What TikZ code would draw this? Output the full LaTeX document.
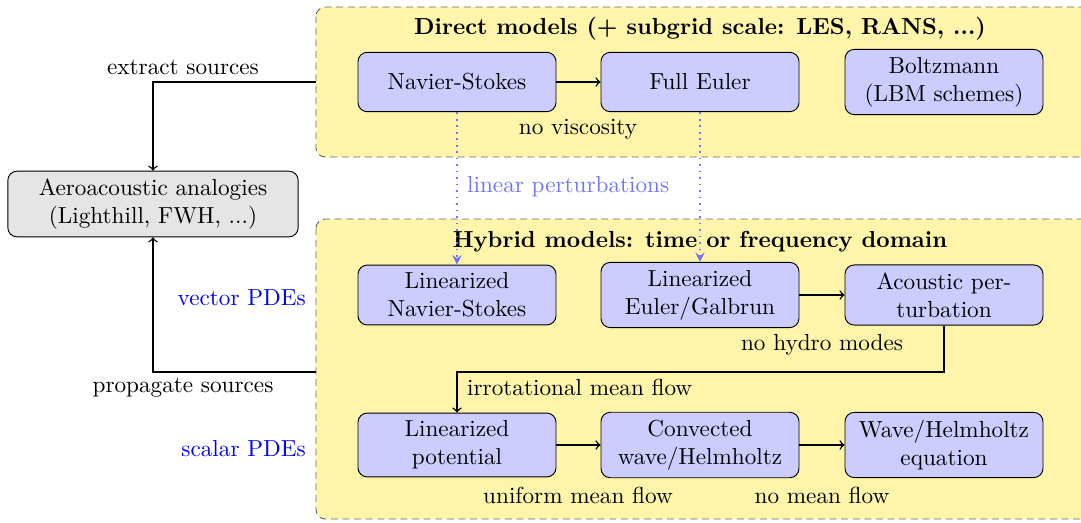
\documentclass[tikz,border=0pt]{standalone}
\usepackage{tikz}
\usetikzlibrary{arrows}

\definecolor{panelyellow}{RGB}{255,245,170}
\tikzset{
  model/.style={draw, rounded corners, fill=blue!20, align=center,
    minimum width=3cm, minimum height=0.9cm},
  analogy/.style={model, fill=gray!20, minimum width=4.4cm},
  panel/.style={draw=gray!80!black, dash pattern=on 3pt off 2pt, rounded corners, fill=panelyellow},
  perturb/.style={blue!55, dotted, thick},
}

\begin{document}
\begin{tikzpicture}[x=0.01515cm,y=-0.01515cm]
    \useasboundingbox (0,0) rectangle (1081,522);

    % Panels
    \draw[panel] (316,7) rectangle (1095,157);
    \draw[panel] (316,219) rectangle (1095,519);
    \node[font=\bfseries] (directT) at (700,29) {Direct models (+ subgrid scale: LES, RANS, ...)};
    \node[font=\bfseries] (hybridT) at (700,242) {Hybrid models: time or frequency domain};

    % Direct models
    \node[model] (ns) at (457,82) {Navier-Stokes};
    \node[model] (euler) at (700,82) {Full Euler};
    \node[model] (boltz) at (944,82) {Boltzmann\\(LBM schemes)};
    \draw[->,semithick] (ns) -- (euler);
    \node (noVisc) at (578,129) {no viscosity};

    % Analogies
    \node[analogy] (aero) at (153,204) {Aeroacoustic analogies\\(Lighthill, FWH, ...)};

    % Hybrid models
    \node[model] (lns) at (457,295) {Linearized\\Navier-Stokes};
    \node[model] (lee) at (700,295) {Linearized\\Euler/Galbrun};
    \node[model] (ape) at (944,295) {Acoustic per-\\turbation};
    \node[model] (lpot) at (457,445) {Linearized\\potential};
    \node[model] (cwave) at (700,445) {Convected\\wave/Helmholtz};
    \node[model] (wave) at (944,445) {Wave/Helmholtz\\equation};

    \draw[->,semithick] (lee) -- (ape);
    \draw[->,semithick] (lpot) -- (cwave);
    \draw[->,semithick] (cwave) -- (wave);
    \coordinate (bend) at (457,372);
    \draw[->,semithick] (ape.south) |- (bend) -- (lpot.north);

    \node (noHydro) at (822,345) {no hydro modes};
    \node[anchor=west] (irrot) at (459,387) {irrotational mean flow};
    \node (uniform) at (578,495) {uniform mean flow};
    \node (noMean) at (822,495) {no mean flow};

    % Linear perturbations
    \draw[-stealth,perturb] (ns.south) -- (lns.north);
    \draw[-stealth,perturb] (euler.south) -- (lee.north);
    \node[blue!55, anchor=west] (linPert) at (459,187) {linear perturbations};

    % Sources
    \coordinate (extractPt) at (316,82);
    \coordinate (propagatePt) at (316,372);
    \draw[->,semithick] (extractPt) -| (aero.north);
    \draw[->,semithick] (propagatePt) -| (aero.south);
    \node (extract) at (183,67) {extract sources};
    \node (propagate) at (183,388) {propagate sources};

    % PDE types
    \node[blue, anchor=east] (vecPDE) at (314,298) {vector PDEs};
    \node[blue, anchor=east] (scaPDE) at (314,449) {scalar PDEs};

\end{tikzpicture}
\end{document}
